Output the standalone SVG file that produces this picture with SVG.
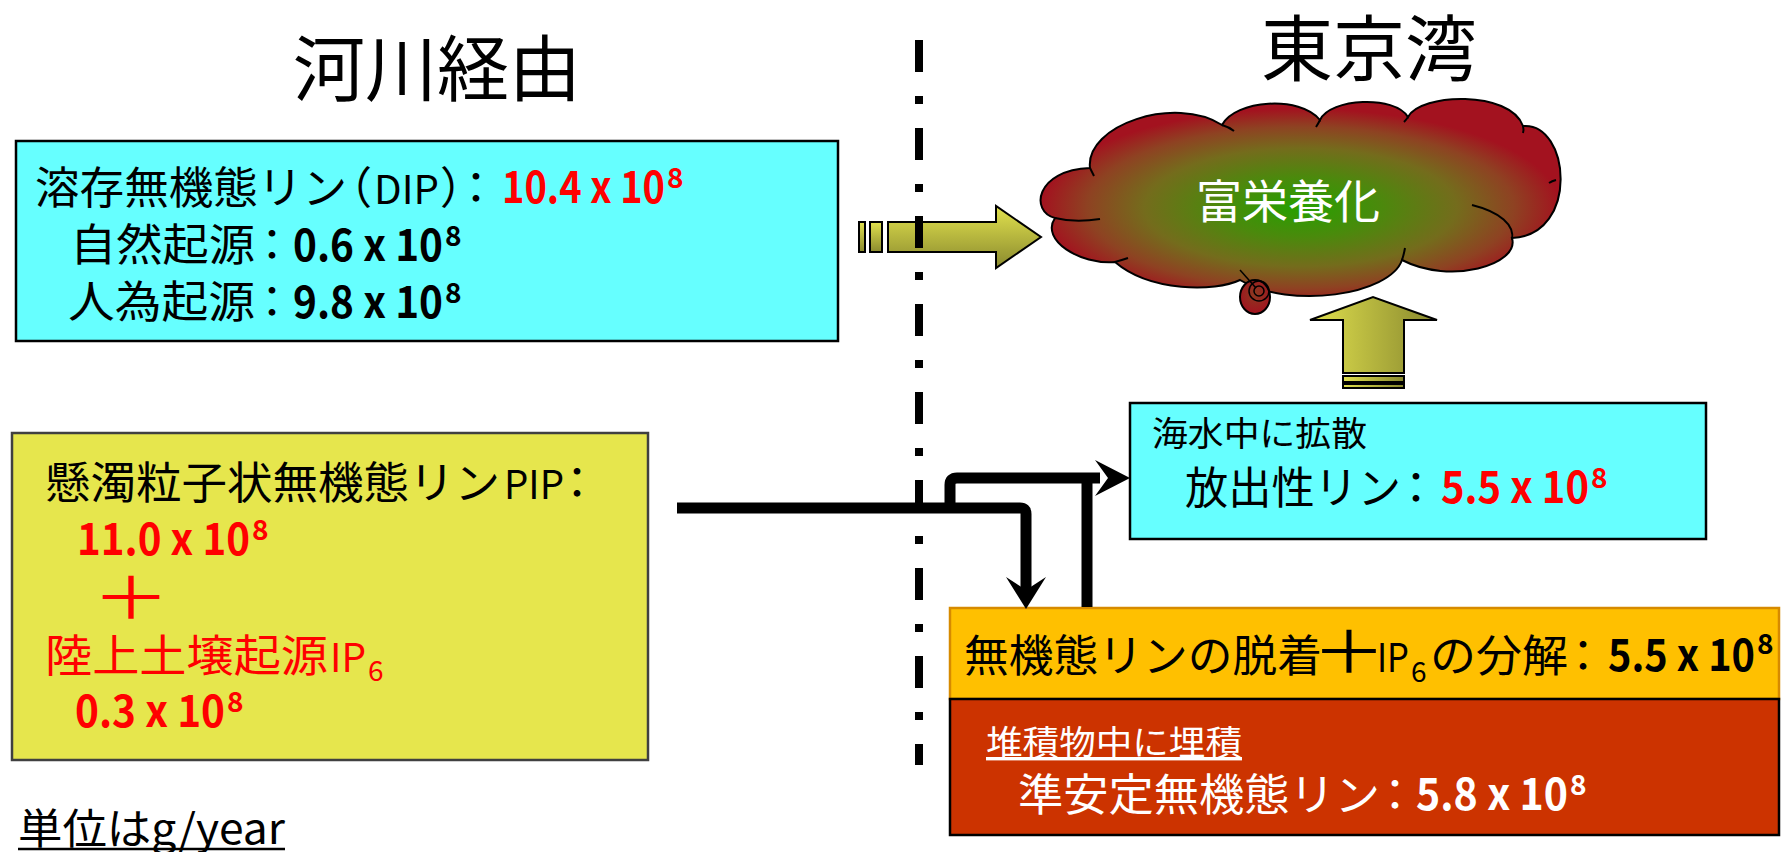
<svg xmlns="http://www.w3.org/2000/svg" width="1783" height="852" viewBox="0 0 1783 852">
  <defs>
    <style>
      text { font-family: "Noto Sans CJK JP", "Noto Sans", sans-serif; fill: #000; }
      .t44 { font-size: 44px; }
      .num { font-size: 44px; font-weight: bold; }
      .sup { font-size: 28px; font-weight: bold; }
      .sub { font-size: 28px; }
      .lat { font-size: 40px; }
      .plus { font-size: 58px; }
      .red { fill: #ff0000; }
      .wht { fill: #ffffff; }
      .box { stroke: #000; stroke-width: 2.5; }
      .conn { fill: none; stroke: #000; stroke-width: 11; stroke-linejoin: round; }
      .head { fill: #000; }
      .blk { stroke: #000; stroke-width: 2; }
    </style>
    <radialGradient id="cloudFill" cx="0.5" cy="0.55" r="0.5">
      <stop offset="0" stop-color="#27a000"/>
      <stop offset="0.3" stop-color="#4a8a0c"/>
      <stop offset="0.6" stop-color="#746c1c"/>
      <stop offset="0.82" stop-color="#8e4222"/>
      <stop offset="1" stop-color="#a3121f"/>
    </radialGradient>
    <radialGradient id="bubbleFill" cx="0.5" cy="0.4" r="0.6">
      <stop offset="0" stop-color="#8a3a20"/>
      <stop offset="1" stop-color="#a3121f"/>
    </radialGradient>
    <linearGradient id="arrowV" x1="0" y1="0" x2="0" y2="1">
      <stop offset="0" stop-color="#e2e24e"/>
      <stop offset="1" stop-color="#8a8a2e"/>
    </linearGradient>
    <linearGradient id="arrowH" x1="0" y1="0" x2="1" y2="0">
      <stop offset="0" stop-color="#e0e04e"/>
      <stop offset="1" stop-color="#88882e"/>
    </linearGradient>
  </defs>

  <rect width="1783" height="852" fill="#fff"/>

  <!-- headings -->
  <g id="heading-river">
    <text x="437" y="95" font-size="72" text-anchor="middle">河川経由</text>
  </g>
  <g id="heading-bay">
    <text x="1369" y="75" font-size="72" text-anchor="middle">東京湾</text>
  </g>

  <!-- dissolved inorganic phosphorus -->
  <g id="dip">
    <rect class="box" x="16" y="141" width="822" height="200" fill="#66ffff"/>
    <text class="t44" x="35" y="204" textLength="312" lengthAdjust="spacingAndGlyphs">溶存無機態リン</text>
    <text class="t44" x="328" y="204">（</text>
    <text class="lat" x="374" y="204" textLength="65" lengthAdjust="spacingAndGlyphs">DIP</text>
    <text class="t44" x="440" y="204">）</text>
    <text class="t44" x="454" y="204">：</text>
    <text class="num red" x="502" y="203" textLength="163" lengthAdjust="spacingAndGlyphs">10.4 x 10</text>
    <text class="sup red" x="667" y="188">8</text>
    <text class="t44" x="70" y="261" textLength="185" lengthAdjust="spacingAndGlyphs">自然起源</text>
    <text class="t44" x="250" y="261">：</text>
    <text class="num" x="293" y="261" textLength="150" lengthAdjust="spacingAndGlyphs">0.6 x 10</text>
    <text class="sup" x="445" y="246">8</text>
    <text class="t44" x="68" y="318" textLength="187" lengthAdjust="spacingAndGlyphs">人為起源</text>
    <text class="t44" x="250" y="318">：</text>
    <text class="num" x="293" y="318" textLength="150" lengthAdjust="spacingAndGlyphs">9.8 x 10</text>
    <text class="sup" x="445" y="303">8</text>
  </g>

  <!-- particulate inorganic phosphorus -->
  <g id="pip">
    <rect x="12" y="433" width="636" height="327" fill="#e6e64d" stroke="#404040" stroke-width="2.5"/>
    <text class="t44" x="45" y="499" textLength="455" lengthAdjust="spacingAndGlyphs">懸濁粒子状無機態リン</text>
    <text class="lat" x="504" y="499" textLength="60" lengthAdjust="spacingAndGlyphs">PIP</text>
    <text class="t44" x="555" y="499">：</text>
    <text class="num red" x="77" y="555" textLength="173" lengthAdjust="spacingAndGlyphs">11.0 x 10</text>
    <text class="sup red" x="252" y="540">8</text>
    <text class="plus red" x="92" y="619" textLength="78" lengthAdjust="spacingAndGlyphs">＋</text>
    <text class="t44 red" x="45" y="672" textLength="283" lengthAdjust="spacingAndGlyphs">陸上土壌起源</text>
    <text class="lat red" x="330" y="672" textLength="36" lengthAdjust="spacingAndGlyphs">IP</text>
    <text class="sub red" x="368" y="681">6</text>
    <text class="num red" x="75" y="727" textLength="150" lengthAdjust="spacingAndGlyphs">0.3 x 10</text>
    <text class="sup red" x="227" y="712">8</text>
  </g>

  <!-- unit note -->
  <g id="unit">
    <text x="18" y="844" font-size="42" textLength="267" lengthAdjust="spacingAndGlyphs">単位はg/year</text>
    <line x1="18" y1="849" x2="285" y2="849" stroke="#000" stroke-width="2.5"/>
  </g>

  <!-- eutrophication cloud -->
  <g id="eutrophication">
    <path d="M1055,218 C1030,212 1035,170 1090,168 C1085,125 1175,95 1222,125 C1235,100 1300,95 1320,120 C1330,98 1395,95 1408,117 C1420,93 1510,90 1523,126 C1570,122 1580,235 1512,238 C1520,265 1450,285 1402,260 C1390,295 1290,310 1240,280 C1215,292 1150,292 1115,262 C1080,265 1040,240 1055,218 Z" fill="url(#cloudFill)" stroke="#000" stroke-width="2"/>
    <g fill="none" stroke="#000" stroke-width="2">
      <path d="M1055,218 Q1075,223 1100,219"/>
      <path d="M1222,125 Q1229,127 1234,131"/>
      <path d="M1320,120 Q1318,124 1316,127"/>
      <path d="M1408,117 Q1406,120 1404,122"/>
      <path d="M1523,126 Q1524,130 1523,133"/>
      <path d="M1472,205 C1500,212 1515,225 1512,240"/>
      <path d="M1402,260 Q1404,254 1405,248"/>
      <path d="M1115,262 Q1122,260 1128,258"/>
      <path d="M1090,168 Q1092,172 1094,176"/>
      <path d="M1556,180 Q1552,181 1549,183"/>
    </g>
    <ellipse cx="1255" cy="297" rx="15" ry="17" fill="url(#bubbleFill)" stroke="#000" stroke-width="2"/>
    <g fill="none" stroke="#000" stroke-width="1.5">
      <circle cx="1259" cy="291" r="10"/>
      <circle cx="1259" cy="291" r="5"/>
      <line x1="1240" y1="270" x2="1256" y2="288"/>
    </g>
    <text x="1288" y="218" font-size="46" text-anchor="middle" class="wht">富栄養化</text>
  </g>

  <!-- released phosphorus -->
  <g id="release">
    <rect class="box" x="1130" y="403" width="576" height="136" fill="#66ffff"/>
    <text x="1152" y="446" font-size="34" textLength="215" lengthAdjust="spacingAndGlyphs">海水中に拡散</text>
    <text class="t44" x="1185" y="504" textLength="216" lengthAdjust="spacingAndGlyphs">放出性リン</text>
    <text class="t44" x="1394" y="504">：</text>
    <text class="num red" x="1441" y="503" textLength="148" lengthAdjust="spacingAndGlyphs">5.5 x 10</text>
    <text class="sup red" x="1591" y="488">8</text>
  </g>

  <!-- desorption and IP6 decomposition -->
  <g id="desorption">
    <rect x="950" y="608" width="829" height="91" fill="#ffc000" stroke="#d68a00" stroke-width="2.5"/>
    <text class="t44" x="964" y="672" textLength="358" lengthAdjust="spacingAndGlyphs">無機態リンの脱着</text>
    <text class="plus" x="1312" y="673" textLength="74" lengthAdjust="spacingAndGlyphs">＋</text>
    <text class="lat" x="1377" y="672" textLength="32" lengthAdjust="spacingAndGlyphs">IP</text>
    <text class="sub" x="1411" y="682">6</text>
    <text class="t44" x="1430" y="672" textLength="138" lengthAdjust="spacingAndGlyphs">の分解</text>
    <text class="t44" x="1561" y="672">：</text>
    <text class="num" x="1608" y="671" textLength="147" lengthAdjust="spacingAndGlyphs">5.5 x 10</text>
    <text class="sup" x="1757" y="654">8</text>
  </g>

  <!-- burial in sediment -->
  <g id="burial">
    <rect class="box" x="950" y="699" width="829" height="136" fill="#cc3300"/>
    <text class="wht" x="986" y="755" font-size="34" textLength="256" lengthAdjust="spacingAndGlyphs" text-decoration="underline">堆積物中に埋積</text>
    <text class="t44 wht" x="1018" y="811" textLength="362" lengthAdjust="spacingAndGlyphs">準安定無機態リン</text>
    <text class="t44 wht" x="1373" y="811">：</text>
    <text class="num wht" x="1416" y="810" textLength="152" lengthAdjust="spacingAndGlyphs">5.8 x 10</text>
    <text class="sup wht" x="1570" y="795">8</text>
  </g>

  <!-- flows -->
  <g id="connectors">
    <!-- DIP to the bay -->
    <rect class="blk" x="859" y="222" width="6" height="30" fill="url(#arrowV)"/>
    <rect class="blk" x="870" y="222" width="12" height="30" fill="url(#arrowV)"/>
    <polygon class="blk" points="888,222 996,222 996,206 1041,237 996,268 996,252 888,252" fill="url(#arrowV)"/>
    <!-- released phosphorus up to the cloud -->
    <polygon class="blk" points="1343,373 1343,320 1310,320 1373,297 1437,320 1404,320 1404,373" fill="url(#arrowH)"/>
    <rect class="blk" x="1343" y="376" width="61" height="6" fill="url(#arrowH)"/>
    <rect class="blk" x="1343" y="384" width="61" height="4" fill="url(#arrowH)"/>
    <!-- particulate load split -->
    <path class="conn" d="M677,508 H1020 Q1026,508 1026,514 V592"/>
    <polygon class="head" points="1026,609 1006,577 1026,590 1046,577"/>
    <path class="conn" d="M950,508 V485 Q950,478 957,478 H1100"/>
    <polygon class="head" points="1130,478 1095,460 1108,478 1095,496"/>
    <path class="conn" d="M1087,607 V478"/>
  </g>

  <!-- river / bay boundary -->
  <g id="boundary">
    <line x1="919" y1="40" x2="919" y2="765" stroke="#000" stroke-width="8" stroke-dasharray="32 24 8 24"/>
  </g>
</svg>
